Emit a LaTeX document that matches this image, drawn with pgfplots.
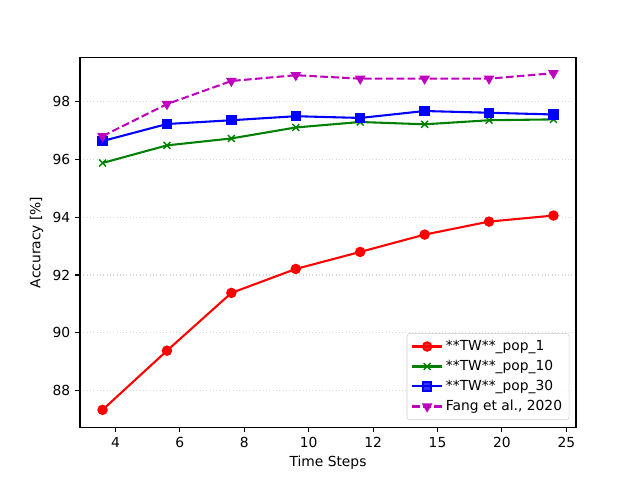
\documentclass[border=0pt]{standalone}
\usepackage{pgfplots}
\pgfplotsset{compat=1.18}
\usepackage{fontspec}
\setmainfont{DejaVu Sans}
\usetikzlibrary{plotmarks}
\begin{document}
\begin{tikzpicture}[x=1in,y=1in]
\path[use as bounding box] (0,0) rectangle (6.4,4.8);
\begin{axis}[
  at={(0.8in,0.528in)}, anchor=south west,
  scale only axis, width=4.96in, height=3.696in,
  xmin=-0.35, xmax=7.35, ymin=86.73, ymax=99.53,
  xtick={0.2,1.2,2.2,3.2,4.2,5.2,6.2,7.2},
  xticklabels={4,6,8,10,12,15,20,25},
  ytick={88,90,92,94,96,98},
  /pgf/number format/assume math mode=true,
  tick label style={font=\fontsize{10}{12}\selectfont},
  label style={font=\fontsize{10}{12}\selectfont},
  xlabel={Time Steps}, ylabel={Accuracy [\%]},
  tick align=outside, tick pos=left,
  major tick length=3.5pt,
  every tick/.style={black, line width=0.8pt},
  axis line style={line width=0.8pt},
  ymajorgrids, grid style={gray!30, dotted, line width=0.8pt},
  legend cell align=left,
  legend style={at={(0.9865,0.0195)}, anchor=south east,
    font=\fontsize{10}{12}\selectfont,
    draw=gray!40, rounded corners=2pt, fill=white, fill opacity=0.8, text opacity=1,
    row sep=1.5pt, inner sep=3pt},
  legend image code/.code={
    \draw[mark repeat=2,mark phase=2,#1] plot coordinates {(0cm,0cm) (0.38cm,0cm) (0.76cm,0cm)};
  },
  every axis plot/.append style={line width=1.5pt},
  xlabel style={yshift=1pt},
]
\addplot[red, mark=*, mark size=3pt, mark options={solid}] coordinates {
(0,87.33) (1,89.38) (2,91.38) (3,92.21) (4,92.80) (5,93.40) (6,93.85) (7,94.06)};
\addlegendentry{**TW**\_pop\_1}
\addplot[green!50!black, mark=x, mark size=3.5pt, mark options={solid,line width=1pt}] coordinates {
(0,95.88) (1,96.49) (2,96.73) (3,97.11) (4,97.30) (5,97.22) (6,97.36) (7,97.39)};
\addlegendentry{**TW**\_pop\_10}
\addplot[blue, mark=square*, mark size=3pt, mark options={solid}] coordinates {
(0,96.64) (1,97.23) (2,97.36) (3,97.50) (4,97.44) (5,97.68) (6,97.62) (7,97.56)};
\addlegendentry{**TW**\_pop\_30}
\addplot[color={rgb,1:red,0.75;green,0;blue,0.75}, dashed, dash pattern=on 5.5pt off 2.4pt, mark=triangle*, mark size=3pt, mark options={solid, rotate=180}] coordinates {
(0,96.81) (1,97.92) (2,98.72) (3,98.92) (4,98.80) (5,98.80) (6,98.80) (7,98.99)};
\addlegendentry{Fang et al., 2020}
\end{axis}
\end{tikzpicture}
\end{document}
